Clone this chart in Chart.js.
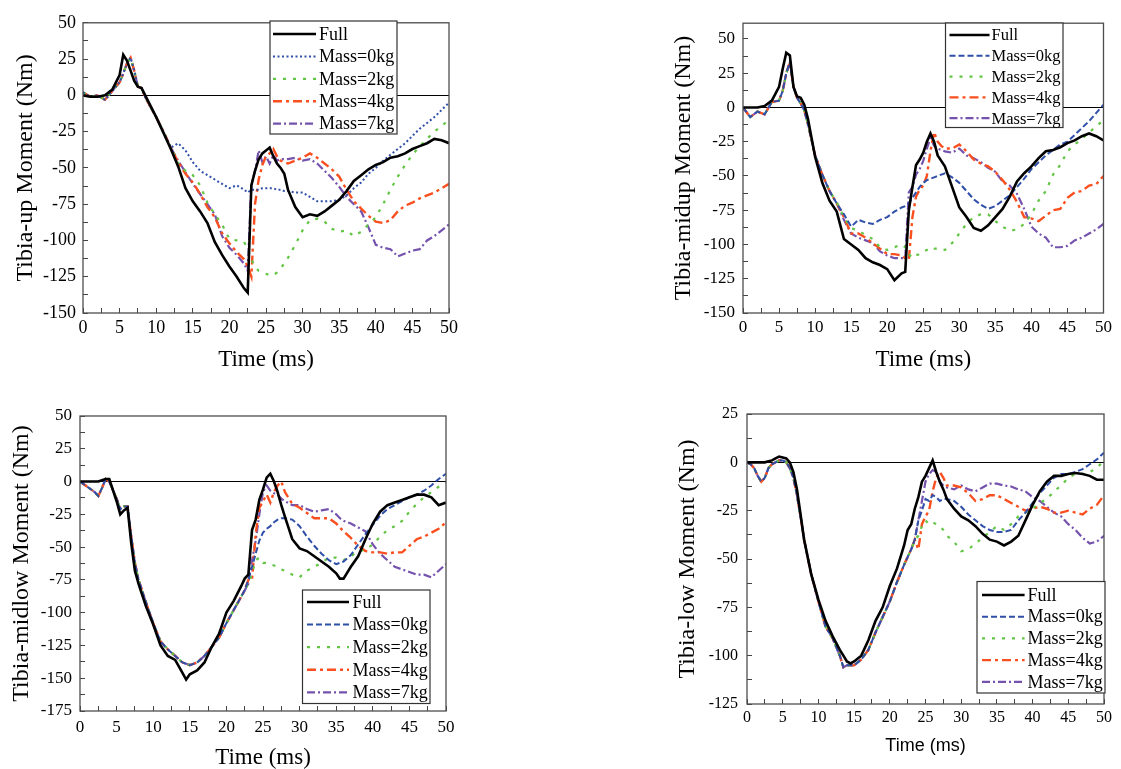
<!DOCTYPE html>
<html><head><meta charset="utf-8">
<script src="https://cdn.jsdelivr.net/npm/chart.js@4.4.1/dist/chart.umd.min.js"></script>
<style>
html,body{margin:0;padding:0;background:#fff;width:1121px;height:769px;overflow:hidden;}
canvas{position:absolute;}
</style></head><body>
<canvas id="c1" width="560" height="385" style="left:0;top:0"></canvas>
<canvas id="c2" width="561" height="385" style="left:560px;top:0"></canvas>
<canvas id="c3" width="560" height="384" style="left:0;top:385px"></canvas>
<canvas id="c4" width="561" height="384" style="left:560px;top:385px"></canvas>
<script>
// ---------- data ----------
const seriesLabels = ['Full', 'Mass=0kg', 'Mass=2kg', 'Mass=4kg', 'Mass=7kg'];

// Tibia-up and Tibia-midup share this time base (ms)
const timeTop = [0,1,2,3,4,5,5.5,6,6.5,7,7.5,8,8.5,9,10,11,12,13,14,15,16,17,18,19,20,21,22,22.5,23,23.5,24,24.5,25,25.5,26,26.5,27,27.5,28,29,30,31,32,33,34,35,36,37,38,39,40,41,42,43,44,45,46,47,48,49,50];

const upFull = [0,-1,-1,0,4,14,28,24,17,10,6,5,0,-5,-15,-26,-37,-49,-64,-73,-80,-88,-101,-110,-118,-125,-133,-136,-62,-52,-44,-40,-38,-36,-42,-47,-50,-54,-65,-77,-84,-82,-83,-80,-76,-72,-66,-59,-55,-51,-48,-46,-43,-42,-40,-37,-35,-33,-30,-31,-33];
const upStart = [2,-1,0,-3,3,9,15,22,26,17,6,5,-1,-6,-15,-25,-36];
const upMass0 = [...upStart,-33,-38,-46,-52,-55,-58,-61,-64,-62,-65,-67,-65,-65,-65,-64,-64,-64,-64,-65,-65,-66,-66,-67,-67,-70,-73,-73,-73,-72,-69,-64,-60,-54,-50,-45,-41,-37,-33,-28,-23,-19,-15,-10,-5];
const upMass2 = [...upStart,-47,-52,-55,-62,-74,-82,-89,-99,-100,-101,-106,-113,-118,-121,-122,-123,-124,-124,-122,-119,-116,-112,-103,-93,-86,-85,-87,-92,-94,-93,-97,-94,-89,-84,-75,-65,-56,-48,-41,-35,-30,-25,-21,-17];
const upMass4 = [...upStart,-46,-54,-60,-68,-77,-84,-95,-102,-108,-113,-118,-125,-75,-58,-48,-42,-40,-37,-42,-45,-46,-47,-45,-43,-40,-43,-47,-51,-56,-65,-73,-78,-83,-87,-88,-86,-80,-76,-74,-71,-69,-67,-64,-61];
const upMass7 = [...upStart,-45,-53,-61,-68,-75,-82,-97,-105,-110,-116,-121,-62,-52,-38,-46,-42,-47,-41,-45,-44,-44,-44,-43,-45,-44,-47,-52,-57,-63,-70,-75,-80,-91,-103,-105,-106,-111,-109,-107,-106,-100,-97,-93,-89];

const midupFull = [0,0,0,1,5,15,28,40,38,15,8,7,2,-8,-36,-55,-68,-76,-96,-100,-104,-110,-113,-115,-118,-126,-121,-120,-75,-58,-42,-38,-33,-25,-19,-25,-35,-39,-43,-58,-73,-80,-88,-90,-86,-80,-74,-65,-54,-48,-43,-37,-32,-31,-29,-26,-24,-21,-19,-21,-24];
const midupStart = [0,-7,-3,-5,4,5,12,25,33,15,7,3,-2,-12,-35,-49,-61];
const midupMass0 = [...midupStart,-70,-78,-87,-82,-84,-85,-82,-80,-76,-73,-72,-70,-66,-62,-58,-55,-53,-52,-51,-50,-49,-48,-51,-55,-61,-67,-71,-74,-72,-68,-64,-58,-52,-45,-40,-35,-31,-27,-25,-20,-15,-10,-4,2];
const midupMass2 = [...midupStart,-69,-80,-88,-90,-93,-96,-102,-104,-102,-100,-102,-107,-110,-108,-107,-105,-104,-102,-103,-103,-104,-104,-99,-92,-85,-80,-78,-78,-83,-87,-90,-89,-85,-78,-68,-61,-49,-42,-32,-27,-23,-18,-14,-9];
const midupMass4 = [...midupStart,-70,-80,-92,-92,-95,-99,-103,-107,-107,-108,-110,-111,-80,-65,-60,-57,-50,-32,-18,-25,-28,-30,-30,-27,-32,-38,-41,-43,-47,-53,-60,-69,-80,-81,-83,-79,-75,-74,-66,-62,-61,-57,-56,-50];
const midupMass7 = [...midupStart,-70,-82,-92,-95,-97,-99,-105,-108,-110,-110,-110,-62,-58,-49,-45,-39,-30,-22,-28,-30,-31,-32,-33,-30,-35,-37,-40,-44,-47,-54,-57,-63,-74,-87,-92,-95,-102,-102,-101,-97,-95,-92,-89,-85];

// Tibia-midlow
const timeMidlow = [0,1,2,2.5,3,3.5,4,5,5.5,6,6.5,7,7.5,8,9,10,11,12,13,14,14.5,15,16,17,18,19,20,21,22,22.5,23,23.5,24,24.5,25,25.5,26,26.5,27,27.5,28,29,30,31,32,33,34,35,35.5,36,37,38,39,40,41,42,43,44,45,46,47,48,49,50];
const midlowFull = [0,0,0,0,1,2,2,-15,-25,-22,-20,-47,-68,-78,-95,-109,-125,-133,-136,-146,-151,-147,-144,-138,-126,-116,-100,-91,-80,-74,-71,-37,-29,-14,-6,3,6,0,-8,-18,-27,-44,-51,-53,-57,-61,-65,-70,-74,-74,-65,-57,-44,-32,-23,-18,-16,-14,-12,-10,-10,-12,-18,-16];
const midlowStart = [0,-4,-8,-11,-5,2,0,-13,-21,-19,-19,-42,-62,-75,-92,-108,-122,-128,-133,-138,-139,-140,-138,-133,-126,-119,-108,-98,-88,-83];
const midlowMass0 = [...midlowStart,-75,-65,-55,-45,-39,-36,-34,-31,-29,-28,-28,-29,-34,-42,-49,-55,-60,-63,-62,-61,-56,-48,-40,-33,-26,-21,-18,-15,-12,-10,-7,-3,2,6];
const midlowMass2 = [...midlowStart,-78,-70,-60,-58,-62,-62,-63,-64,-65,-67,-68,-71,-73,-68,-65,-62,-58,-58,-59,-60,-57,-53,-52,-48,-42,-37,-34,-30,-23,-17,-12,-8,-4,-1];
const midlowMass4 = [...midlowStart,-75,-75,-40,-20,-15,-10,-16,-8,-3,0,-8,-17,-20,-24,-28,-28,-28,-32,-35,-38,-43,-49,-53,-54,-54,-55,-54,-54,-49,-44,-42,-39,-36,-31];
const midlowMass7 = [...midlowStart,-78,-60,-45,-25,-8,-3,-7,-9,-10,-13,-15,-18,-18,-21,-23,-22,-21,-25,-28,-30,-32,-35,-38,-48,-55,-60,-65,-67,-69,-71,-71,-73,-68,-63];

// Tibia-low
const timeLow = [0,0.5,1,1.5,2,2.5,3,3.5,4,4.5,5,5.5,6,6.5,7,7.5,8,9,10,11,12,13,13.5,14,14.5,15,16,17,18,19,20,21,22,22.5,23,23.5,24,24.5,25,25.5,26,26.5,27,27.5,28,29,30,31,32,33,34,35,36,37,38,39,40,41,42,43,44,45,46,47,48,49,50];
const lowFull = [0,0,0,0,0,0,0.5,1,2,3,2.5,2,0,-5,-14,-27,-40,-58,-71,-82,-90,-97,-100,-103,-104,-103,-100,-92,-82,-75,-64,-55,-43,-35,-32,-24,-18,-10,-7,-3,1,-5,-10,-14,-19,-24,-28,-30,-33,-37,-40,-41,-43,-41,-38,-30,-22,-15,-10,-7,-7,-6,-5.5,-6,-7,-9,-9];
const lowStart = [0,-1,-3,-7,-10,-8,-3,-1,0,1,1,0,-3,-8,-17,-28,-40,-58,-72,-85,-91,-100,-106,-105,-105,-105,-102,-97,-88,-80,-72,-62,-53,-49,-45,-40];
const lowMass0 = [...lowStart,-30,-25,-19,-20,-17,-18,-20,-19,-19,-20,-23,-27,-30,-33,-35,-36,-36,-35,-30,-26,-21,-16,-12,-8,-6,-6,-5,-3.5,-1,1.5,5];
const lowMass2 = [...lowStart,-38,-33,-30,-32,-31,-32,-33,-35,-38,-41,-46,-45,-42,-39,-36,-33,-35,-32,-28,-26,-24,-21,-19,-15,-12,-8,-6,-6,-5,-3,1];
const lowMass4 = [...lowStart,-45,-32,-28,-25,-15,-8,-5,-8,-12,-12,-13,-16,-20,-19,-17,-17,-19,-21,-23,-25,-24,-23,-24,-26,-26,-25,-26,-27,-24,-22,-17];
const lowMass7 = [...lowStart,-30,-20,-10,-6,-4,-5,-10,-12,-13,-14,-12,-14,-15,-13,-11,-11,-12,-12.5,-14,-15,-18,-20,-23,-26,-28,-32,-35,-39,-42,-41,-38];

// ---------- styling ----------
const SERIF = '"Liberation Serif", "Times New Roman", serif';
const SANS = '"Liberation Sans", Arial, sans-serif';
const colors = ['#000000', '#2f4fa8', '#63c544', '#fa4f1f', '#7452ad'];
const widths = [2.6, 2, 2.2, 2.4, 2.2];
const dashesDotted = [[], [2, 2.5], [3, 7], [9, 4, 3, 4], [8, 3, 2, 3]];
const dashesDashed = [[], [6, 3], [3, 7], [9, 4, 3, 4], [8, 3, 2, 3]];

const framePlugin = {
  id: 'frameBox',
  afterDatasetsDraw(chart) {
    const {ctx, chartArea: a} = chart;
    ctx.save();
    ctx.strokeStyle = '#4d4d4d';
    ctx.lineWidth = 1.3;
    ctx.strokeRect(a.left, a.top, a.right - a.left, a.bottom - a.top);
    ctx.restore();
  }
};
const boxLegend = {
  id: 'boxLegend',
  afterDatasetsDraw(chart, args, o) {
    if (!o || !o.width) return;
    const ctx = chart.ctx;
    ctx.save();
    ctx.fillStyle = '#fff';
    ctx.fillRect(o.left, o.top, o.width, o.height);
    ctx.strokeStyle = '#333';
    ctx.lineWidth = 1.2;
    ctx.strokeRect(o.left, o.top, o.width, o.height);
    chart.data.datasets.forEach((ds, i) => {
      const y = o.top + o.firstRow + i * o.rowGap;
      ctx.beginPath();
      ctx.setLineDash(ds.borderDash || []);
      ctx.strokeStyle = ds.borderColor;
      ctx.lineWidth = ds.borderWidth;
      ctx.moveTo(o.left + o.lineStart, y);
      ctx.lineTo(o.left + o.lineStart + o.lineLen, y);
      ctx.stroke();
      ctx.setLineDash([]);
      ctx.fillStyle = '#000';
      ctx.font = o.fontSize + 'px ' + SERIF;
      ctx.textAlign = 'left';
      ctx.textBaseline = 'middle';
      ctx.fillText(ds.label, o.left + o.lineStart + o.lineLen + o.textGap, y + 1);
    });
    ctx.restore();
  }
};
Chart.register(framePlugin, boxLegend);

function makePanel(id, time, series, dashes, cfg) {
  const datasets = series.map((vals, i) => ({
    label: seriesLabels[i],
    data: time.map((t, k) => ({x: t, y: vals[k]})),
    borderColor: colors[i],
    borderWidth: widths[i],
    borderDash: dashes[i],
    pointRadius: 0,
    fill: false,
    tension: 0
  }));
  new Chart(document.getElementById(id), {
    type: 'line',
    data: {datasets},
    options: {
      responsive: false,
      animation: false,
      devicePixelRatio: 1,
      layout: {padding: cfg.pad},
      plugins: {legend: {display: false}, tooltip: {enabled: false}, boxLegend: cfg.legend},
      scales: {
        x: {
          type: 'linear', min: 0, max: 50,
          ticks: {
            stepSize: 2.5, autoSkip: false, maxRotation: 0, minRotation: 0,
            padding: cfg.xTickPad, color: '#000',
            font: {family: SERIF, size: cfg.tickSize},
            callback: v => (Math.abs(v % 5) < 1e-6 ? String(v) : '')
          },
          grid: {display: true, drawOnChartArea: false, drawTicks: true, tickLength: -5, tickColor: '#444', tickWidth: 1},
          border: {display: false},
          title: {
            display: true, text: 'Time (ms)', color: '#000',
            font: {family: cfg.xTitleFamily || SERIF, size: cfg.xTitleSize, lineHeight: 1},
            padding: {top: 0, bottom: cfg.xTitlePad}
          },
          afterFit: s => { s.height = cfg.xH; }
        },
        y: {
          type: 'linear', min: cfg.yMin, max: cfg.yMax,
          ticks: {
            stepSize: 12.5, includeBounds: false, autoSkip: false,
            padding: cfg.yTickPad, color: '#000',
            font: {family: SERIF, size: cfg.tickSize},
            callback: v => (Math.abs(v % 25) < 1e-6 ? String(v) : '')
          },
          grid: {
            display: true, drawOnChartArea: true, drawTicks: true, tickLength: -5,
            tickColor: '#444', tickWidth: 1, lineWidth: 1,
            color: c => (c.tick && c.tick.value === 0 ? '#000' : 'rgba(0,0,0,0)')
          },
          border: {display: false},
          title: {
            display: true, text: cfg.yTitle, color: '#000',
            font: {family: SERIF, size: 24, lineHeight: 1},
            padding: {top: cfg.yTitlePad, bottom: 0}
          },
          afterFit: s => { s.width = cfg.yW; }
        }
      }
    }
  });
}

makePanel('c1', timeTop, [upFull, upMass0, upMass2, upMass4, upMass7], dashesDotted, {
  pad: {left: 0, top: 19, right: 111, bottom: 0}, yW: 83, xH: 72,
  yMin: -150, yMax: 50, tickSize: 18, xTickPad: 9, yTickPad: 12,
  yTitle: 'Tibia-up Moment (Nm)', yTitlePad: 14, xTitleSize: 23, xTitlePad: 14,
  legend: {left: 270, top: 21, width: 127, height: 113, firstRow: 13, rowGap: 22.4, lineStart: 3, lineLen: 43, textGap: 3, fontSize: 18}
});
makePanel('c2', timeTop, [midupFull, midupMass0, midupMass2, midupMass4, midupMass7], dashesDashed, {
  pad: {left: 100, top: 19, right: 12, bottom: 0}, yW: 83, xH: 72,
  yMin: -150, yMax: 61.5, tickSize: 17, xTickPad: 9, yTickPad: 13,
  yTitle: 'Tibia-midup Moment (Nm)', yTitlePad: 12, xTitleSize: 23, xTitlePad: 14,
  legend: {left: 385.5, top: 23, width: 117.5, height: 104.5, firstRow: 12, rowGap: 20.8, lineStart: 4, lineLen: 40, textGap: 2, fontSize: 16.5}
});
makePanel('c3', timeMidlow, [midlowFull, midlowMass0, midlowMass2, midlowMass4, midlowMass7], dashesDashed, {
  pad: {left: 0, top: 31, right: 114, bottom: 0}, yW: 80, xH: 58,
  yMin: -175, yMax: 50, tickSize: 17, xTickPad: 11, yTickPad: 13,
  yTitle: 'Tibia-midlow Moment (Nm)', yTitlePad: 10, xTitleSize: 23, xTitlePad: 0,
  legend: {left: 302.5, top: 205, width: 127.5, height: 113.5, firstRow: 12, rowGap: 22.6, lineStart: 4.5, lineLen: 42, textGap: 3.5, fontSize: 18}
});
makePanel('c4', timeLow, [lowFull, lowMass0, lowMass2, lowMass4, lowMass7], dashesDashed, {
  pad: {left: 104, top: 29, right: 9, bottom: 0}, yW: 83, xH: 65,
  yMin: -125, yMax: 25, tickSize: 16, xTickPad: 9, yTickPad: 14,
  yTitle: 'Tibia-low Moment (Nm)', yTitlePad: 12, xTitleSize: 18, xTitlePad: 14, xTitleFamily: SANS,
  legend: {left: 417, top: 196.5, width: 128, height: 111.5, firstRow: 13.5, rowGap: 21.7, lineStart: 5, lineLen: 42.6, textGap: 3, fontSize: 18}
});
</script>
</body></html>
